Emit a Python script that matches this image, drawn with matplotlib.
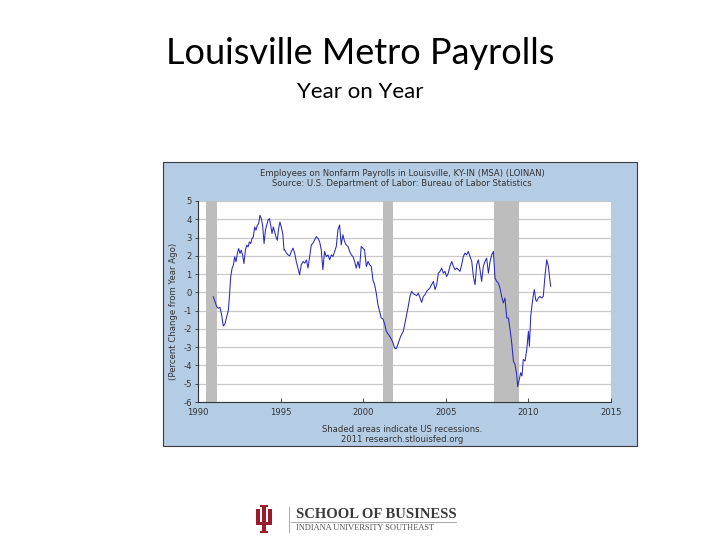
import numpy as np
import matplotlib
matplotlib.use("Agg")
import matplotlib.pyplot as plt
from matplotlib.patches import Rectangle, Polygon

plt.rcParams['axes.unicode_minus'] = False

# Louisville MSA nonfarm payrolls, % change from year ago
years = [
    1990.93, 1991.13, 1991.23, 1991.33, 1991.43, 1991.53, 1991.63, 1991.74, 1991.84, 1991.90,
    1991.98, 1992.06, 1992.14, 1992.22, 1992.30, 1992.38, 1992.46, 1992.54, 1992.62, 1992.70,
    1992.78, 1992.87, 1992.95, 1993.03, 1993.11, 1993.19, 1993.27, 1993.35, 1993.43, 1993.51,
    1993.59, 1993.67, 1993.75, 1993.83, 1993.91, 1994.00, 1994.08, 1994.16, 1994.24, 1994.32,
    1994.40, 1994.48, 1994.56, 1994.64, 1994.72, 1994.80, 1994.88, 1994.96, 1995.04, 1995.13,
    1995.21,
    1995.25, 1995.35, 1995.45, 1995.55, 1995.65, 1995.75, 1995.85, 1995.95, 1996.05, 1996.15,
    1996.25, 1996.36, 1996.46, 1996.56, 1996.66, 1996.76, 1996.86, 1996.96, 1997.06, 1997.16,
    1997.26, 1997.36, 1997.46, 1997.56, 1997.66, 1997.76, 1997.87, 1997.97, 1998.07, 1998.17,
    1998.27, 1998.37, 1998.47, 1998.57, 1998.67, 1998.77, 1998.87, 1998.97, 1999.08, 1999.18,
    1999.28, 1999.38, 1999.48, 1999.58, 1999.68, 1999.78, 1999.88, 1999.98, 2000.08, 2000.19,
    2000.29, 2000.39, 2000.49, 2000.59, 2000.69, 2000.79, 2000.89, 2000.99, 2001.09, 2001.19,
    2001.29, 2001.39, 2001.50, 2001.60, 2001.70, 2001.80, 2001.90, 2002.00,
    2002.13, 2002.27, 2002.43, 2002.53, 2002.63, 2002.73, 2002.83, 2002.93, 2003.03, 2003.14,
    2003.24, 2003.34, 2003.44, 2003.54, 2003.64, 2003.74, 2003.84, 2003.94, 2004.04, 2004.14,
    2004.25, 2004.35, 2004.45, 2004.55, 2004.65, 2004.75, 2004.85, 2004.95, 2005.05, 2005.15,
    2005.25, 2005.36, 2005.46, 2005.56, 2005.66, 2005.76, 2005.86, 2005.96, 2006.06, 2006.16,
    2006.26, 2006.36, 2006.47, 2006.57, 2006.67, 2006.77, 2006.87, 2006.97, 2007.07, 2007.17,
    2007.27, 2007.37, 2007.47, 2007.58, 2007.68, 2007.78, 2007.88, 2007.98, 2008.08, 2008.18,
    2008.28, 2008.38, 2008.48, 2008.58, 2008.69, 2008.79, 2008.89, 2008.99, 2009.09, 2009.19,
    2009.29, 2009.35, 2009.45, 2009.53, 2009.61, 2009.69, 2009.80, 2009.90, 2010.00, 2010.06,
    2010.14, 2010.22, 2010.30, 2010.36, 2010.44, 2010.50, 2010.60, 2010.70, 2010.80, 2010.90,
    2011.01, 2011.11, 2011.21, 2011.31, 2011.35,
]
pct = [
    -0.24, -0.78, -0.87, -0.82, -1.24, -1.84, -1.73, -1.33, -0.96, -0.24,
    0.85, 1.31, 1.49, 1.95, 1.67, 2.13, 2.40, 2.13, 2.31, 2.04,
    1.58, 2.31, 2.58, 2.49, 2.76, 2.67, 2.95, 3.04, 3.58, 3.40,
    3.67, 3.76, 4.22, 4.04, 3.67, 2.67, 3.40, 3.67, 3.95, 4.04,
    3.67, 3.22, 3.58, 3.31, 3.04, 2.85, 3.49, 3.85, 3.58, 3.22,
    2.31,
    2.33, 2.15, 2.05, 2.00, 2.24, 2.42, 2.15, 1.69, 1.33, 0.96,
    1.51, 1.69, 1.60, 1.78, 1.33, 1.96, 2.60, 2.69, 2.87, 3.05,
    2.96, 2.78, 2.33, 1.24, 2.24, 1.96, 2.05, 1.78, 2.05, 1.96,
    2.24, 2.51, 3.42, 3.69, 2.60, 3.15, 2.78, 2.60, 2.51, 2.24,
    2.05, 1.96, 1.69, 1.33, 1.69, 1.33, 2.51, 2.42, 2.33, 1.42,
    1.69, 1.51, 1.42, 0.69, 0.42, -0.04, -0.67, -1.04, -1.40, -1.45,
    -1.70, -2.10, -2.27, -2.40, -2.55, -2.75, -3.04, -3.09,
    -2.76, -2.40, -2.13, -1.67, -1.22, -0.76, -0.22, 0.05, -0.07, -0.13,
    -0.18, -0.04, -0.31, -0.55, -0.22, -0.13, 0.05, 0.15, 0.24, 0.42,
    0.60, 0.15, 0.42, 1.05, 1.15, 1.33, 1.05, 1.15, 0.87, 1.05,
    1.42, 1.69, 1.42, 1.24, 1.33, 1.24, 1.15, 1.51, 1.96, 2.15,
    2.05, 2.24, 1.96, 1.69, 0.87, 0.42, 1.51, 1.78, 1.24, 0.60,
    1.42, 1.69, 1.87, 1.05, 1.69, 2.05, 2.24, 0.78, 0.60, 0.51,
    0.24, -0.22, -0.58, -0.31, -1.40, -1.40, -2.04, -2.76, -3.76, -3.95,
    -4.49, -5.16, -4.76, -4.40, -4.58, -3.67, -3.76, -3.13, -2.13, -2.95,
    -1.31, -0.67, -0.13, 0.15, -0.40, -0.49, -0.31, -0.22, -0.31, -0.22,
    0.96, 1.78, 1.42, 0.60, 0.33,
]

# US recessions (start, end)
rec_start = [1990.50, 2001.17, 2007.92]
rec_end = [1991.17, 2001.83, 2009.42]

xticks = [1990, 1995, 2000, 2005, 2010, 2015]
yticks = list(range(-6, 6))

W, H = 720, 540
fig = plt.figure(figsize=(7.2, 5.4), dpi=100)
fig.patch.set_facecolor('white')

def fx(px):
    return px / W

def fy(py):
    return 1 - py / H

# slide title
fig.text(fx(360), fy(54), 'Louisville Metro Payrolls', ha='center', va='center',
         fontsize=26, family='Lato', color='black')
fig.text(fx(360), fy(92), 'Year on Year', ha='center', va='center',
         fontsize=16, family='Lato', color='black')

# chart panel
fig.add_artist(Rectangle((fx(163), fy(446)), fx(474), 284 / H, transform=fig.transFigure,
                         facecolor='#b5cce5', edgecolor='#3a3a3a', lw=0.8, zorder=0))
small = 6.1
fig.text(fx(402), fy(173), 'Employees on Nonfarm Payrolls in Louisville, KY-IN (MSA) (LOINAN)',
         ha='center', va='center', fontsize=small, color='#333333')
fig.text(fx(402), fy(183), 'Source: U.S. Department of Labor: Bureau of Labor Statistics',
         ha='center', va='center', fontsize=small, color='#333333')
fig.text(fx(402), fy(430), 'Shaded areas indicate US recessions.',
         ha='center', va='center', fontsize=small, color='#333333')
fig.text(fx(402), fy(440), '2011 research.stlouisfed.org',
         ha='center', va='center', fontsize=small, color='#333333')

ax = fig.add_axes([fx(198), fy(402), (611 - 198) / W, (402 - 201) / H])
ax.set_facecolor('white')
for s, e in zip(rec_start, rec_end):
    ax.axvspan(s, e, color='#bdbdbd', lw=0, zorder=1)
for yv in yticks:
    ax.axhline(yv, color='#c9c9c9', lw=0.9, zorder=0.5)
ax.plot(years, pct, color='#2828c0', lw=0.75, zorder=3)

ax.set_xlim(1990, 2015)
ax.set_ylim(-6, 5)
ax.set_xticks(xticks)
ax.set_yticks(yticks)
ax.tick_params(axis='x', direction='in', length=3, width=0.6, color='#333333',
               labelsize=small, labelcolor='#333333', pad=4)
ax.tick_params(axis='y', direction='out', length=2.5, width=0.6, color='#333333',
               labelsize=small, labelcolor='#333333', pad=2)
for side in ['top', 'right']:
    ax.spines[side].set_visible(False)
for side in ['left', 'bottom']:
    ax.spines[side].set_color('#333333')
    ax.spines[side].set_linewidth(0.8)
fig.text(fx(174), fy(311), '(Percent Change from Year Ago)', rotation=90,
         ha='center', va='center', fontsize=small, color='#333333')

# school logo: IU trident
lax = fig.add_axes([fx(256), fy(533), 16 / W, 29 / H])
lax.set_xlim(0, 1)
lax.set_ylim(0, 1.8)
lax.axis('off')
crimson = '#9d1c2b'
bars = [
    (0.38, 0.08, 0.24, 1.60),   # centre stem
    (0.28, 1.62, 0.44, 0.12),   # centre top serif
    (0.24, 0.00, 0.52, 0.11),   # base serif
    (0.02, 0.62, 0.20, 0.78),   # left prong
    (0.78, 0.62, 0.20, 0.78),   # right prong
    (0.00, 1.36, 0.28, 0.11),   # left prong serif
    (0.72, 1.36, 0.28, 0.11),   # right prong serif
    (0.02, 0.48, 0.96, 0.20),   # lower bow
]
for bx, by, bw, bh in bars:
    lax.add_patch(Rectangle((bx, by), bw, bh, fc=crimson, ec='none'))

fig.add_artist(plt.Line2D([fx(289), fx(289)], [fy(532), fy(507)], transform=fig.transFigure,
                          color='#9a9a9a', lw=0.6))
fig.add_artist(plt.Line2D([fx(291), fx(456)], [fy(522), fy(522)], transform=fig.transFigure,
                          color='#9a9a9a', lw=0.6))
fig.text(fx(296), fy(514), 'SCHOOL OF BUSINESS', ha='left', va='center',
         fontsize=10.5, family='Liberation Serif', weight='bold', color='#3a3a3a')
fig.text(fx(296), fy(528), 'INDIANA UNIVERSITY SOUTHEAST', ha='left', va='center',
         fontsize=6, family='Liberation Serif', color='#555555')

fig.savefig('out.png', dpi=100)
